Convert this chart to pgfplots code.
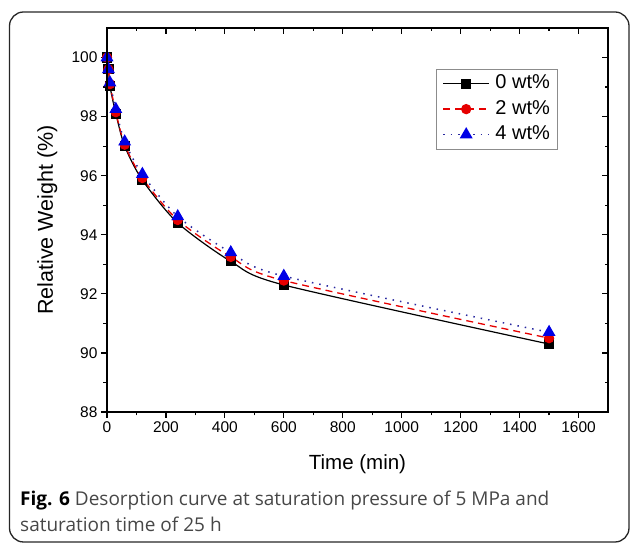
\documentclass[border=0pt]{standalone}
\usepackage{pgfplots}
\pgfplotsset{compat=1.18}
\usepackage{fontspec}
\setmainfont{Liberation Sans}
\newfontfamily\capfont{Open Sans}
\definecolor{myblue}{RGB}{0,0,230}
\definecolor{myred}{RGB}{230,0,0}
\definecolor{navyline}{RGB}{40,40,160}
\begin{document}
\begin{tikzpicture}[x=1pt,y=1pt]
\useasboundingbox (0,0) rectangle (630,545);
\draw[line width=1.3pt, black!85, rounded corners=14pt] (9.5,3) rectangle (629,533);
\begin{axis}[
  at={(107pt,133pt)}, anchor=south west,
  scale only axis, width=501pt, height=384pt,
  xmin=0, xmax=1700, ymin=88, ymax=101,
  xtick={0,200,...,1600}, ytick={88,90,...,100},
  minor x tick num=1, minor y tick num=1,
  xtick pos=left, ytick pos=left,
  tick align=outside,
  major tick length=6pt, minor tick length=3.5pt,
  axis line style={line width=1.4pt},
  every tick/.style={line width=1.2pt, black},
  /pgf/number format/assume math mode=true,
  /pgf/number format/1000 sep={},
  tick label style={font=\fontsize{15.5}{16}\selectfont},
  xlabel={Time (min)}, ylabel={Relative Weight (\%)},
  xlabel style={font=\fontsize{20.5}{22}\selectfont, at={(axis description cs:0.5,0)}, anchor=base, yshift=-58pt},
  ylabel style={font=\fontsize{21.5}{22}\selectfont, at={(axis description cs:0,0.5)}, anchor=base, yshift=54pt},
  legend cell align=left,
  legend style={at={(rel axis cs:0.657,0.893)}, anchor=north west,
    draw=black!45, line width=0.6pt, font=\fontsize{20}{21}\selectfont,
    row sep=5pt, inner xsep=6pt, inner ysep=4pt,
    nodes={inner sep=1.5pt, text height=14pt, text depth=3.5pt}},
  legend image code/.code={
    \draw[mark repeat=2, mark phase=2] plot coordinates {(0pt,0pt) (23pt,0pt) (46pt,0pt)};
  },
]
\addplot[black, line width=1.2pt, smooth, tension=0.45, mark=square*, mark size=4.5pt, mark options={solid}]
  coordinates {(0,100) (5,99.6) (10,99.03) (30,98.1) (60,97.0) (120,95.85) (240,94.4) (420,93.1) (600,92.3) (1500,90.3)};
\addlegendentry{\hspace{4pt}0 wt\%}
\addplot[myred, line width=1.3pt, dashed, dash pattern=on 7pt off 5pt, smooth, tension=0.45, mark=*, mark size=4.5pt, mark options={solid}]
  coordinates {(0,100) (5,99.6) (10,99.1) (30,98.15) (60,97.05) (120,95.92) (240,94.5) (420,93.25) (600,92.45) (1500,90.5)};
\addlegendentry{\hspace{4pt}2 wt\%}
\addplot[navyline, line width=1.5pt, dotted, dash pattern=on 1.5pt off 6pt, smooth, tension=0.45, mark=triangle*, mark size=6pt, mark options={solid, fill=myblue, draw=myblue}]
  coordinates {(0,100) (5,99.6) (10,99.15) (30,98.25) (60,97.15) (120,96.05) (240,94.62) (420,93.4) (600,92.6) (1500,90.7)};
\addlegendentry{\hspace{4pt}4 wt\%}
\end{axis}
\begin{axis}[
  at={(107pt,133pt)}, anchor=south west,
  scale only axis, width=501pt, height=384pt,
  xmin=0, xmax=1700, ymin=88, ymax=101,
  xtick={0,200,...,1600}, ytick={88,90,...,100},
  minor x tick num=1, minor y tick num=1,
  xtick pos=right, ytick pos=right,
  tick align=inside,
  major tick length=6pt, minor tick length=3.5pt,
  axis line style={line width=1.4pt},
  every tick/.style={line width=1.2pt, black},
  xticklabels={}, yticklabels={},
]
\addplot[draw=none] coordinates {(0,88)};
\end{axis}
\node[anchor=base west, font=\capfont\fontsize{19}{20}\selectfont, text=black!72, inner sep=0pt] at (20,39) {\textbf{\color{black}Fig. 6} Desorption curve at saturation pressure of 5 MPa and};
\node[anchor=base west, font=\capfont\fontsize{19}{20}\selectfont, text=black!72, inner sep=0pt] at (20,13) {saturation time of 25 h};
\end{tikzpicture}
\end{document}
